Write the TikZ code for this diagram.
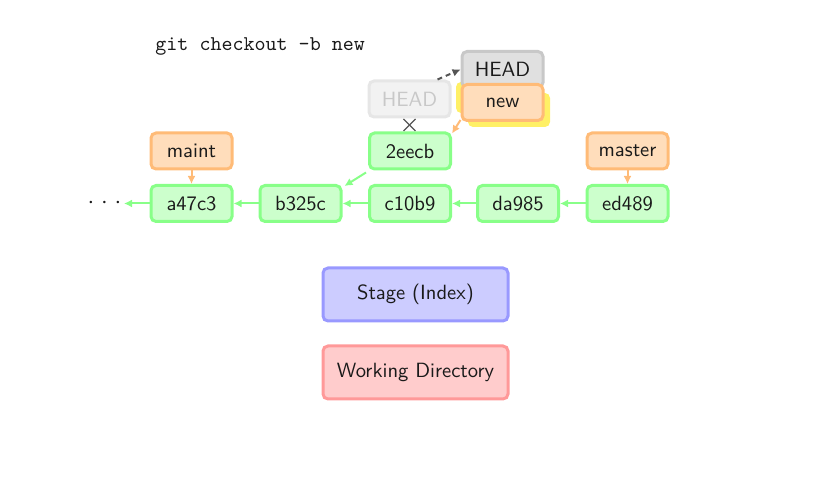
\documentclass[tikz,border=0pt]{standalone}
\usetikzlibrary{arrows.meta}
\definecolor{cfill}{HTML}{CCFFCC}
\definecolor{cdraw}{HTML}{88FF88}
\definecolor{bfill}{HTML}{FFDDBB}
\definecolor{bdraw}{HTML}{FFBB77}
\definecolor{hfill}{HTML}{E0E0E0}
\definecolor{hdraw}{HTML}{C8C8C8}
\definecolor{ffill}{HTML}{F2F2F2}
\definecolor{fdraw}{HTML}{E6E6E6}
\definecolor{ftext}{HTML}{C8C8C8}
\definecolor{sfill}{HTML}{CCCCFF}
\definecolor{sdraw}{HTML}{9999FF}
\definecolor{wfill}{HTML}{FFCCCC}
\definecolor{wdraw}{HTML}{FF9999}
\definecolor{ylw}{HTML}{FFF066}
\definecolor{txt}{HTML}{1A1A1A}
\definecolor{darr}{HTML}{555555}
\tikzset{
  box/.style={rounded corners=2.5pt, line width=1.5pt, minimum width=40.5pt, minimum height=18pt, inner sep=0pt, font=\sffamily\fontsize{10.3}{12}\selectfont, text=txt},
  commit/.style={box, fill=cfill, draw=cdraw},
  branch/.style={box, fill=bfill, draw=bdraw},
  headbox/.style={box, fill=hfill, draw=hdraw},
  fadedhead/.style={box, fill=ffill, draw=fdraw, text=ftext},
  area/.style={box, minimum width=92.5pt, minimum height=26.5pt},
  carrow/.style={draw=cdraw, line width=1pt, -{Latex[length=4pt,width=4pt]}},
  barrow/.style={draw=bdraw, line width=1pt, -{Latex[length=4pt,width=4pt]}},
  harrow/.style={draw=darr, line width=1pt, dash pattern=on 2.5pt off 2pt, -{Latex[length=4pt,width=4pt]}},
  crossline/.style={draw=darr, line width=0.6pt},
}
\begin{document}
\begin{tikzpicture}[x=0.5pt,y=-0.5pt]
\useasboundingbox (0,0) rectangle (831,485);
% yellow highlight
\fill[ylw, rounded corners=2.5pt] (456,82) rectangle (538,113);
\fill[ylw, rounded corners=2.5pt] (468,93) rectangle (550,127);
% command
\node[anchor=west, font=\ttfamily\fontsize{10.5}{12}\selectfont, text=txt, inner sep=0pt] (cmd) at (155,46) {git checkout -b new};
% commits
\node[commit] (a47c3) at (191.5,203.5) {a47c3};
\node[commit] (b325c) at (300.5,203.5) {b325c};
\node[commit] (c10b9) at (410,203.5) {c10b9};
\node[commit] (da985) at (518,203.5) {da985};
\node[commit] (ed489) at (627.5,203.5) {ed489};
\node[commit] (2eecb) at (410,151) {2eecb};
% branches
\node[branch] (maint) at (191.5,151) {maint};
\node[branch] (master) at (627.5,151) {master};
\node[headbox] (head) at (502.5,69.5) {HEAD};
\node[branch] (new) at (502.5,102.5) {new};
\node[fadedhead] (oldhead) at (409.5,99) {HEAD};
% dots
\node[text=txt, inner sep=0pt, font=\large] (dots) at (104.5,203) {\makebox[6.75pt]{$\cdot$}\makebox[6.75pt]{$\cdot$}\makebox[6.75pt]{$\cdot$}};
\coordinate (dotsend) at (124,203.5);
% cross
\coordinate (cross) at (409.5,125);
\draw[crossline] ([xshift=-3pt,yshift=3pt]cross) -- ([xshift=3pt,yshift=-3pt]cross);
\draw[crossline] ([xshift=-3pt,yshift=-3pt]cross) -- ([xshift=3pt,yshift=3pt]cross);
% areas
\node[area, fill=sfill, draw=sdraw] (stage) at (415.5,294.5) {Stage (Index)};
\node[area, fill=wfill, draw=wdraw] (wd) at (415.5,372.5) {Working Directory};
% commit arrows
\draw[carrow] (ed489) -- (da985);
\draw[carrow] (da985) -- (c10b9);
\draw[carrow] (c10b9) -- (b325c);
\draw[carrow] (b325c) -- (a47c3);
\draw[carrow] (a47c3) -- (dotsend);
\draw[carrow] ([xshift=-1pt,yshift=-1pt]2eecb.south west) -- ([xshift=1pt,yshift=-1pt]b325c.north east);
% branch arrows
\draw[barrow] (maint) -- (a47c3);
\draw[barrow] (master) -- (ed489);
\draw[barrow] ([yshift=1pt]new.south west) -- ([yshift=-1pt]2eecb.north east);
% head move
\draw[harrow] ([xshift=-7pt,yshift=0pt]oldhead.north east) -- (head.west);
\end{tikzpicture}
\end{document}
